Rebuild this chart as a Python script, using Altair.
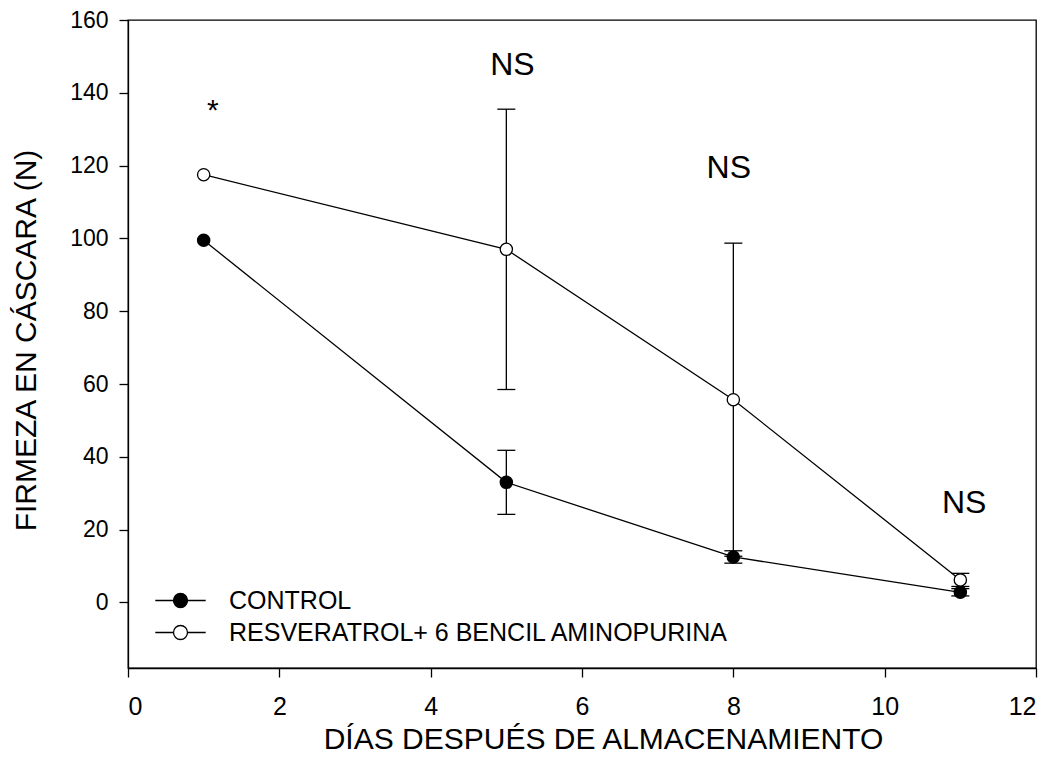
import altair as alt
import pandas as pd

# Shell firmness (N) over storage days, mean and error for each treatment
days = [1, 5, 8, 11]
control_mean = [99.5, 33.0, 12.5, 2.8]
control_err = [0.0, 8.8, 1.7, 1.0]
treated_mean = [117.5, 97.0, 55.7, 6.2]
treated_err = [0.0, 38.5, 43.0, 1.8]

series_names = ["CONTROL", "RESVERATROL+ 6 BENCIL AMINOPURINA"]
series_fill = ["black", "white"]

x_ticks = [0, 2, 4, 6, 8, 10, 12]
y_ticks = [0, 20, 40, 60, 80, 100, 120, 140, 160]

# significance marks above each sampling day
note_text = ["*", "NS", "NS", "NS"]
note_day = [1.12, 5.08, 7.94, 11.05]
note_level = [132.5, 145.0, 116.6, 24.5]

FONT = "Liberation Sans"

rows = []
for name, means, errs in [(series_names[0], control_mean, control_err),
                          (series_names[1], treated_mean, treated_err)]:
    for d, m, e in zip(days, means, errs):
        rows.append({"series": name, "day": d, "mean": m, "err": e,
                     "lo": m - e, "hi": m + e})
df = pd.DataFrame(rows)
notes = pd.DataFrame({"label": note_text, "day": note_day, "level": note_level})

x_scale = alt.Scale(domain=[0, 12], nice=False, zero=False)
y_scale = alt.Scale(domain=[-18, 160], nice=False, zero=False)

x_axis = alt.Axis(values=x_ticks, format="d", title="DÍAS DESPUÉS DE ALMACENAMIENTO",
                  labelFontSize=25, labelPadding=17,
                  titleX=475, titleY=80, titleAlign="center",
                  titleBaseline="alphabetic")
y_axis = alt.Axis(values=y_ticks, format="d", title="FIRMEZA EN CÁSCARA (N)",
                  labelFontSize=23, labelPadding=11,
                  titleX=-93, titleY=320, titleAlign="center",
                  titleBaseline="alphabetic", titleAngle=-90)

base = alt.Chart(df)
X = alt.X("day:Q", scale=x_scale, axis=x_axis)
Y = alt.Y("mean:Q", scale=y_scale, axis=y_axis)

lines = base.mark_line(color="black", strokeWidth=1.3).encode(
    x=X, y=Y, detail="series:N")

bars = base.transform_filter("datum.err > 0").mark_rule(
    color="black", strokeWidth=1.3).encode(
    x=alt.X("day:Q", scale=x_scale),
    y=alt.Y("lo:Q", scale=y_scale),
    y2="hi:Q")

caps = base.transform_filter("datum.err > 0").transform_fold(
    ["lo", "hi"], as_=["end", "val"]).mark_tick(
    color="black", orient="horizontal", size=18, thickness=1.3, opacity=1).encode(
    x=alt.X("day:Q", scale=x_scale),
    y=alt.Y("val:Q", scale=y_scale))

legend_symbol = "M-3.6,0H-1M1,0H3.6M1,0A1,1,0,1,1,-1,0A1,1,0,1,1,1,0Z"

points = base.mark_circle(size=150, stroke="black", strokeWidth=1.3,
                          opacity=1).encode(
    x=alt.X("day:Q", scale=x_scale),
    y=alt.Y("mean:Q", scale=y_scale),
    fill=alt.Fill("series:N",
                  scale=alt.Scale(domain=series_names, range=series_fill),
                  legend=alt.Legend(title=None, orient="none",
                                    legendX=40, legendY=568,
                                    symbolType=legend_symbol, symbolSize=196,
                                    symbolStrokeColor="black",
                                    symbolStrokeWidth=1.3, symbolOpacity=1,
                                    labelFont=FONT, labelFontSize=25,
                                    labelColor="black", labelOffset=36,
                                    labelLimit=0, rowPadding=6, padding=0)))

note_base = alt.Chart(notes)
stars = note_base.transform_filter("datum.label == '*'").mark_text(
    font=FONT, fontSize=30, baseline="alphabetic", align="center",
    color="black").encode(
    x=alt.X("day:Q", scale=x_scale),
    y=alt.Y("level:Q", scale=y_scale),
    text="label:N")
ns = note_base.transform_filter("datum.label != '*'").mark_text(
    font=FONT, fontSize=32, baseline="alphabetic", align="center",
    color="black").encode(
    x=alt.X("day:Q", scale=x_scale),
    y=alt.Y("level:Q", scale=y_scale),
    text="label:N")

chart = alt.layer(lines, bars, caps, points, stars, ns).properties(
    width=908, height=648,
    autosize=alt.AutoSizeParams(type="none"),
    padding={"left": 128, "top": 20, "right": 20, "bottom": 107},
    background="white",
).configure_view(
    stroke="black", strokeWidth=1.3
).configure_axis(
    grid=False, domainColor="black", domainWidth=1.3,
    tickColor="black", tickWidth=1.3, tickSize=9,
    labelFont=FONT, labelColor="black",
    titleFont=FONT, titleFontSize=30, titleFontWeight="normal",
    titleColor="black",
)

chart.save("out.html", embed_options={"renderer": "svg", "actions": False})
